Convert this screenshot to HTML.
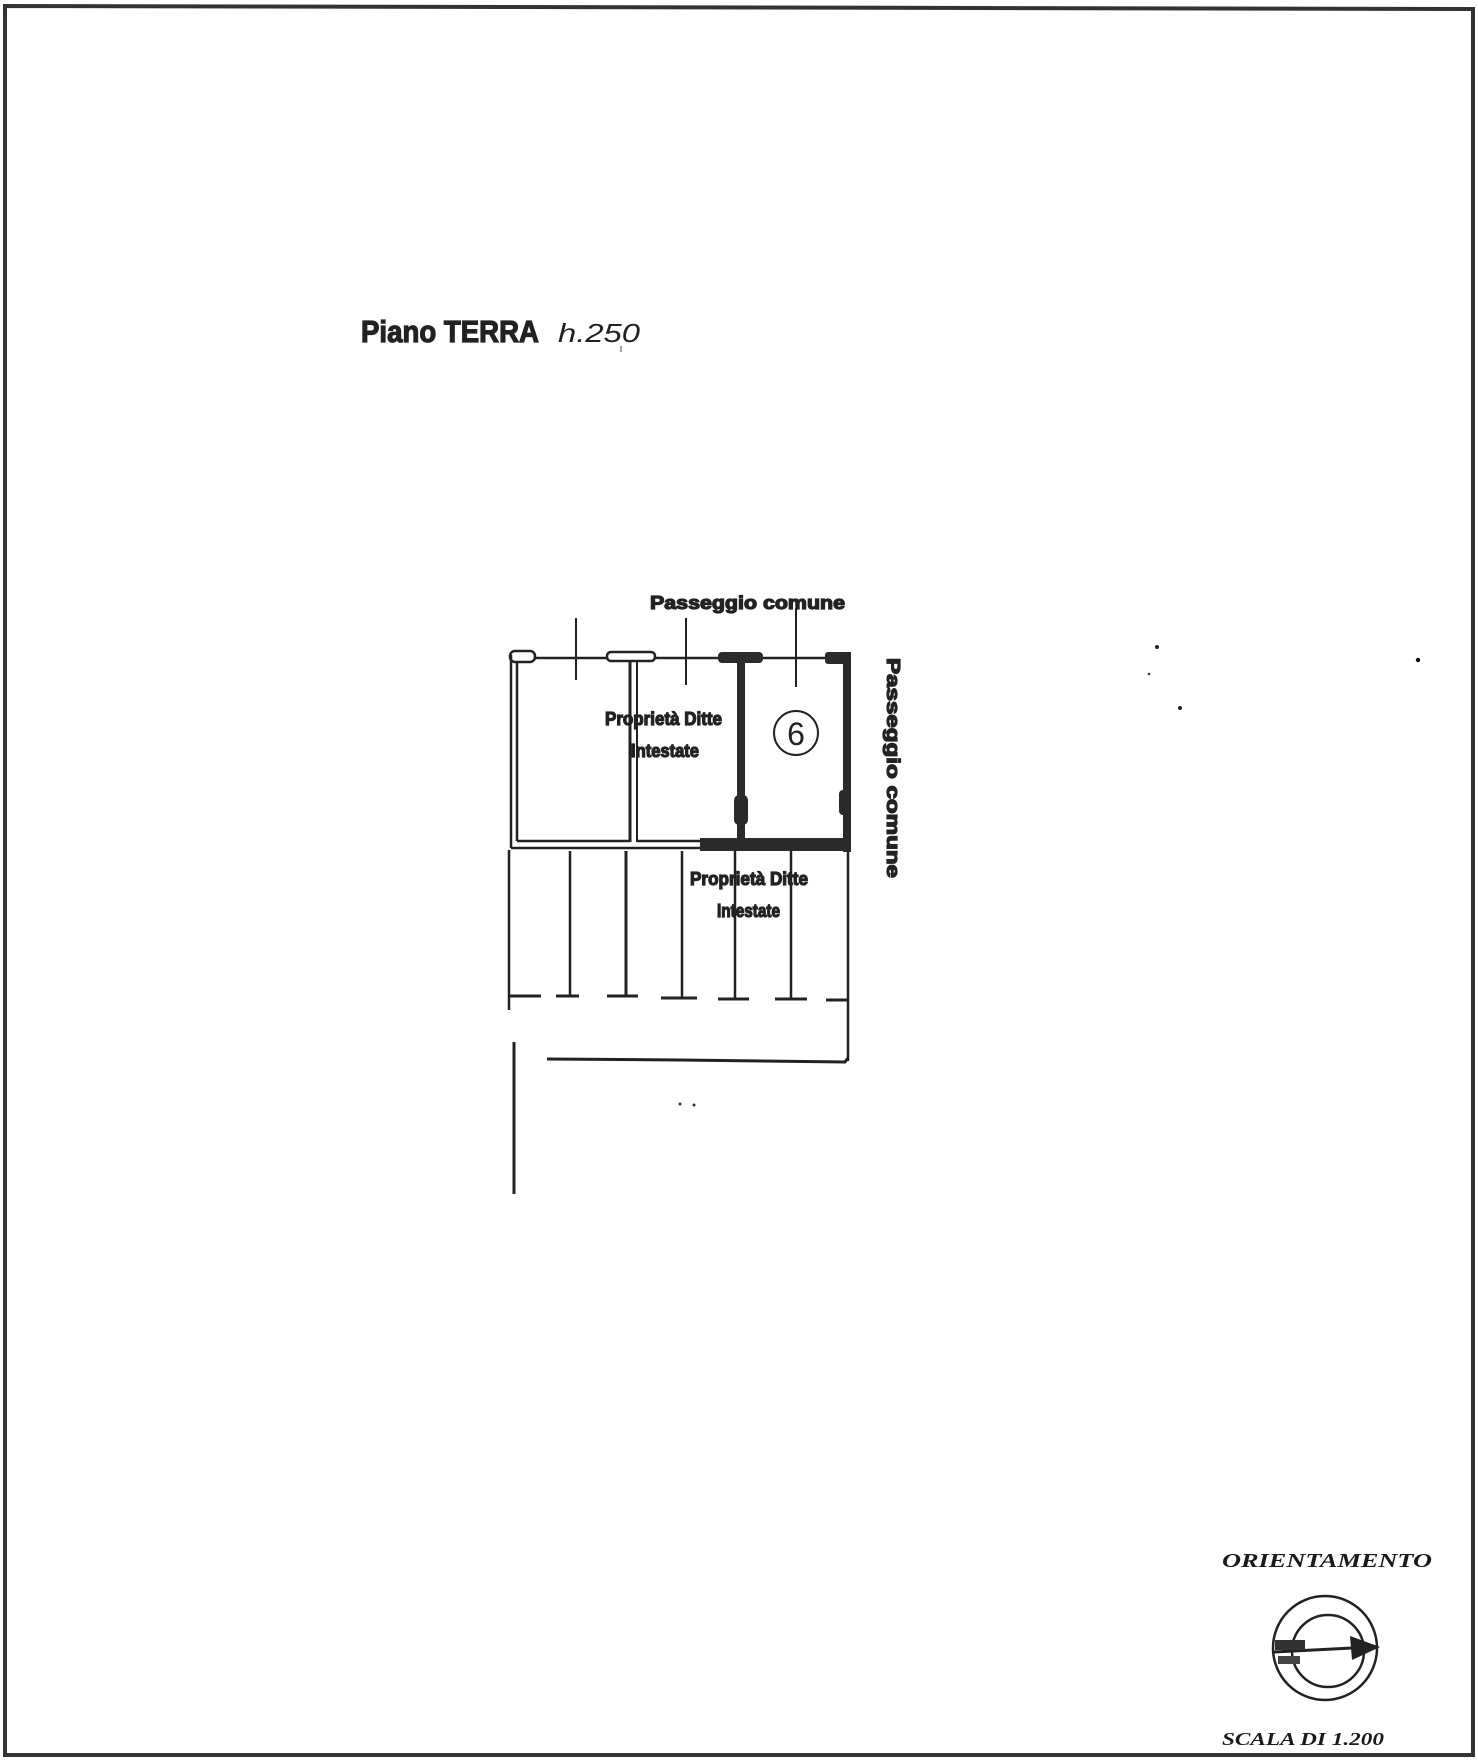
<!DOCTYPE html>
<html><head><meta charset="utf-8"><style>
html,body{margin:0;padding:0;background:#fff;}
svg{display:block}
.lb{font-family:"Liberation Sans",sans-serif;font-weight:bold;fill:#222;stroke:#222;stroke-width:1.2;paint-order:stroke;}
.it{font-family:"Liberation Serif",serif;font-weight:bold;font-style:italic;fill:#1a1a1a;}
</style></head><body>
<svg width="1478" height="1761" viewBox="0 0 1478 1761" xmlns="http://www.w3.org/2000/svg">
<rect width="1478" height="1761" fill="#fff"/>
<path d="M5 1755 L5 6 L1473 9 L1473 1755 Z" fill="none" stroke="#333" stroke-width="4"/>
<text x="361" y="342" class="lb" font-size="31" textLength="178" lengthAdjust="spacingAndGlyphs">Piano TERRA</text>
<text x="558" y="342" font-family="Liberation Sans,sans-serif" font-style="italic" font-size="26" fill="#222" textLength="82" lengthAdjust="spacingAndGlyphs">h.250</text>
<line x1="621" y1="346" x2="621" y2="352" stroke="#444" stroke-width="1"/>

<g stroke="#222" fill="none">
<line x1="535" y1="658" x2="850" y2="658" stroke-width="2.5"/>
<rect x="510" y="651" width="25" height="11" rx="5" stroke-width="2.5" fill="#fff"/>
<rect x="607" y="652" width="48" height="9" rx="4" stroke-width="2.5" fill="#fff"/>
<line x1="511" y1="655" x2="511" y2="848" stroke-width="2.5"/>
<line x1="517" y1="662" x2="517" y2="841" stroke-width="2.5"/>
<line x1="630" y1="661" x2="630" y2="842" stroke-width="3"/>
<line x1="637" y1="661" x2="637" y2="842" stroke-width="2"/>
<line x1="517" y1="841" x2="630" y2="841" stroke-width="2.5"/>
<line x1="637" y1="841" x2="710" y2="841" stroke-width="2.5"/>
<line x1="511" y1="848" x2="710" y2="848" stroke-width="2.5"/>
<line x1="576" y1="618" x2="576" y2="680" stroke-width="2"/>
<line x1="686" y1="618" x2="686" y2="685" stroke-width="2"/>
<line x1="796" y1="608" x2="796" y2="687" stroke-width="2"/>
</g>
<g fill="#2b2b2b">
<rect x="718" y="652" width="45" height="11" rx="4"/>
<rect x="737" y="655" width="8" height="192"/>
<rect x="734" y="795" width="14" height="30" rx="5"/>
<rect x="825" y="652" width="25" height="12" rx="3"/>
<rect x="843" y="652" width="8" height="200"/>
<rect x="839" y="790" width="10" height="25" rx="4"/>
<rect x="700" y="838" width="151" height="13"/>
</g>
<g stroke="#222" stroke-width="2.5" fill="none">
<line x1="509" y1="850" x2="509" y2="1010"/>
<line x1="570" y1="851" x2="570" y2="997"/>
<line x1="626" y1="851" x2="626" y2="997" stroke-width="3"/>
<line x1="682" y1="851" x2="682" y2="997"/>
<line x1="735" y1="851" x2="735" y2="999"/>
<line x1="791" y1="851" x2="791" y2="999"/>
<line x1="848" y1="851" x2="848" y2="1061"/>
<g stroke-width="3">
<line x1="509" y1="996" x2="541" y2="996"/>
<line x1="556" y1="996" x2="579" y2="996"/>
<line x1="607" y1="996" x2="638" y2="996"/>
<line x1="661" y1="998" x2="697" y2="998"/>
<line x1="718" y1="999" x2="749" y2="999"/>
<line x1="775" y1="999" x2="807" y2="999"/>
<line x1="826" y1="1000" x2="848" y2="1000"/>
</g>
<line x1="514" y1="1042" x2="514" y2="1194" stroke-width="3"/>
<path d="M547 1059 L680 1060 L845 1062 L848 1058" stroke-width="3"/>
</g>
<circle cx="680" cy="1104" r="1.5" fill="#333"/><circle cx="694" cy="1105" r="1.5" fill="#333"/>
<text x="650" y="609" class="lb" font-size="18" textLength="195" lengthAdjust="spacingAndGlyphs">Passeggio comune</text>
<text x="605" y="725" class="lb" font-size="18" textLength="117" lengthAdjust="spacingAndGlyphs">Proprietà Ditte</text>
<text x="631" y="757" class="lb" font-size="18" textLength="68" lengthAdjust="spacingAndGlyphs">Intestate</text>
<text x="690" y="885" class="lb" font-size="18" textLength="118" lengthAdjust="spacingAndGlyphs">Proprietà Ditte</text>
<text x="717" y="917" class="lb" font-size="18" textLength="63" lengthAdjust="spacingAndGlyphs">Intestate</text>
<circle cx="796" cy="733" r="22" fill="none" stroke="#222" stroke-width="2"/>
<text x="796" y="745" text-anchor="middle" font-family="Liberation Sans,sans-serif" font-size="32" fill="#222">6</text>
<text transform="translate(887,658) rotate(90)" class="lb" font-size="18" textLength="220" lengthAdjust="spacingAndGlyphs">Passeggio comune</text>
<circle cx="1157" cy="647" r="2" fill="#222"/><circle cx="1149" cy="674" r="1.3" fill="#333"/>
<circle cx="1180" cy="708" r="2" fill="#222"/><circle cx="1418" cy="660" r="2.2" fill="#111"/>
<text x="1222" y="1567" class="it" font-size="20" textLength="210" lengthAdjust="spacingAndGlyphs">ORIENTAMENTO</text>
<circle cx="1325" cy="1648" r="52" fill="none" stroke="#222" stroke-width="2.5"/>
<circle cx="1328" cy="1651" r="36" fill="none" stroke="#222" stroke-width="2.5"/>
<line x1="1274" y1="1652" x2="1372" y2="1647" stroke="#222" stroke-width="3"/>
<path d="M1350 1636 L1380 1647 L1352 1660 Z" fill="#222"/>
<rect x="1275" y="1640" width="30" height="10" fill="#333"/>
<rect x="1278" y="1656" width="22" height="8" fill="#444"/>
<text x="1222" y="1745" class="it" font-size="18" textLength="162" lengthAdjust="spacingAndGlyphs">SCALA DI 1.200</text>
</svg>
</body></html>
